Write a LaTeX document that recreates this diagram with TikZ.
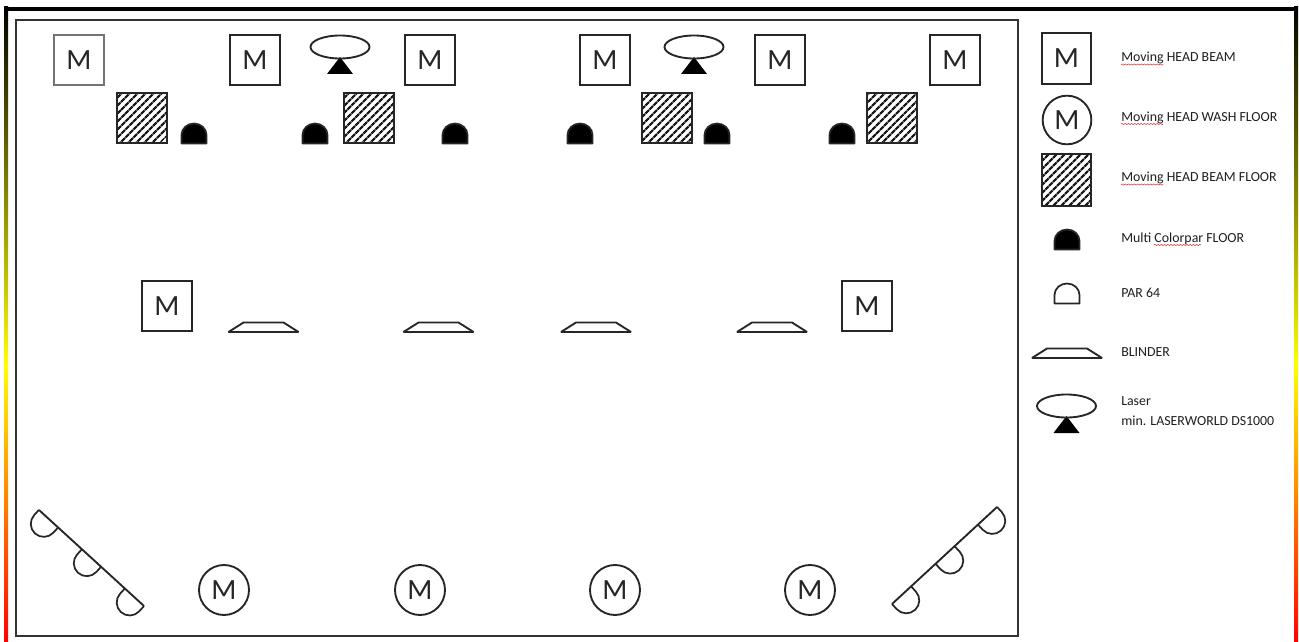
\documentclass[tikz,border=0pt]{standalone}
\usepackage{fontspec}
\setmainfont{Carlito}
\usetikzlibrary{patterns.meta,decorations.pathmorphing}
\definecolor{framegrey}{gray}{0.2}
\definecolor{legendtext}{gray}{0.12}
\definecolor{spellred}{rgb}{0.9,0.25,0.25}
\tikzset{
  x=0.75pt,y=-0.75pt,
  lw/.style={line width=1.6pt,draw=black!85},
  mbox/.style={lw,rectangle,minimum width=37.5pt,minimum height=37.5pt,inner sep=0pt,fill=white,text=black!85,font=\fontsize{22}{22}\selectfont},
  mcirc/.style={lw,line width=1.4pt,circle,minimum size=37.5pt,inner sep=0pt,fill=white,text=black!85,font=\fontsize{22}{22}\selectfont},
  hatchbox/.style={lw,rectangle,minimum width=37.5pt,minimum height=37.5pt,inner sep=0pt,
    pattern={Lines[angle=45,distance=4pt,line width=1.8pt]},pattern color=black!90},
  legend/.style={anchor=west,inner sep=0pt,text=legendtext,align=left,font=\fontsize{10.4}{15}\selectfont},
  spell/.style={draw=spellred,line width=0.45pt,decorate,decoration={snake,amplitude=0.45pt,segment length=2.4pt}},
  pics/par/.style={code={
    \draw[line width=1.3pt,draw=black!85,line join=round,#1]
      (-12.5,-0.5) -- (-12.5,-9) arc[start angle=180,end angle=0,x radius=12.5,y radius=-11.5] -- (12.5,-0.5) -- cycle;
  }},
  pics/tpar/.style={code={
    \draw[line width=1.3pt,draw=black!85,line join=round]
      (-13,0) -- (-13,-7) arc[start angle=180,end angle=0,x radius=13,y radius=-13] -- (13,0);
  }},
  pics/blinder/.style={code={
    \draw[line width=1.4pt,draw=black!85,line join=bevel,fill=white]
      (-35,0) -- (35,0) -- (20,-9.5) -- (-20,-9.5) -- cycle;
  }},
  pics/laser/.style={code={
    \fill[black] (0,10) -- (13,27) -- (-13,27) -- cycle;
    \draw[line width=1.4pt,draw=black!85] (0,0) ellipse[x radius=29.5,y radius=11.5];
  }}
}
\begin{document}
\begin{tikzpicture}
\useasboundingbox (0,0) rectangle (1299,642);
\fill[white] (0,0) rectangle (1299,642);
% gradient frame
\shade[top color=black,bottom color=yellow] (4,7) rectangle (8,365);
\shade[top color=yellow,bottom color=red] (4,365) rectangle (8,642);
\shade[top color=black,bottom color=yellow] (1294,7) rectangle (1298,365);
\shade[top color=yellow,bottom color=red] (1294,365) rectangle (1298,642);
\fill[black] (4,7) rectangle (1298,11);
% stage
\draw[line width=1.6pt,draw=framegrey] (16,20) rectangle (1018,636);
% top row
\node[mbox,draw=black!55] (m1) at (79,60) {M};
\foreach \n/\xx in {m2/255,m3/430,m4/605,m5/780,m6/955}
  \node[mbox] (\n) at (\xx,60) {M};
\foreach \n/\xx in {h1/142,h2/369,h3/667,h4/892}
  \node[hatchbox] (\n) at (\xx,118) {};
\foreach \n/\xx in {p1/194,p2/315,p3/455,p4/580,p5/717,p6/842}
  \pic (\n) at (\xx,144) {par={fill=black}};
\pic (l1) at (340,47) {laser};
\pic (l2) at (694,47) {laser};
% middle row
\node[mbox] (m7) at (167,306) {M};
\node[mbox] (m8) at (867,306) {M};
\foreach \n/\xx in {b1/263.5,b2/438.5,b3/596,b4/772}
  \pic (\n) at (\xx,332) {blinder};
% bottom row
\foreach \n/\xx in {c1/224,c2/420,c3/615,c4/810}
  \node[mcirc] (\n) at (\xx,590) {M};
% trusses
\coordinate (tla) at (39,510);
\coordinate (tlb) at (144,606);
\coordinate (tra) at (892,604);
\coordinate (trb) at (997,507);
\draw[line width=1.4pt,draw=black!85] (tla) -- (tlb);
\draw[line width=1.4pt,draw=black!85] (tra) -- (trb);
\foreach \n/\xx/\yy in {t1/48.5/518.7,t2/91.5/558,t3/134.4/597.3}
  \pic[rotate=137.6] (\n) at (\xx,\yy) {tpar};
\foreach \n/\xx/\yy in {t4/901.5/595.2,t5/945.5/555.5,t6/987.5/515.8}
  \pic[rotate=222.9] (\n) at (\xx,\yy) {tpar};
% legend
\node[mbox,minimum width=36.5pt,minimum height=38pt] (lm) at (1066.5,58.5) {M};
\node[mcirc,minimum size=36.5pt] (lc) at (1067,120) {M};
\node[hatchbox,minimum width=36.5pt,minimum height=38.5pt] (lh) at (1066.5,180) {};
\pic (lp1) at (1067,250) {par={fill=black}};
\pic (lp2) at (1067,304) {par};
\pic (lb) at (1067,358) {blinder};
\pic (ll) at (1066.5,406) {laser};
\node[legend] (t1) at (1121,58) {Moving HEAD BEAM};
\node[legend] (t2) at (1121,117.5) {Moving HEAD WASH FLOOR};
\node[legend] (t3) at (1121,178) {Moving HEAD BEAM FLOOR};
\node[legend] (t4) at (1121,238.5) {Multi Colorpar FLOOR};
\node[legend] (t5) at (1121,293) {PAR 64};
\node[legend] (t6) at (1121,352.5) {BLINDER};
\node[legend] (t7) at (1121,411) {Laser\\min. LASERWORLD DS1000};
\draw[spell] (1121,64.5) -- (1163,64.5);
\draw[spell] (1121,124) -- (1163,124);
\draw[spell] (1121,184.5) -- (1163,184.5);
\draw[spell] (1154,245) -- (1201,245);
\end{tikzpicture}
\end{document}
